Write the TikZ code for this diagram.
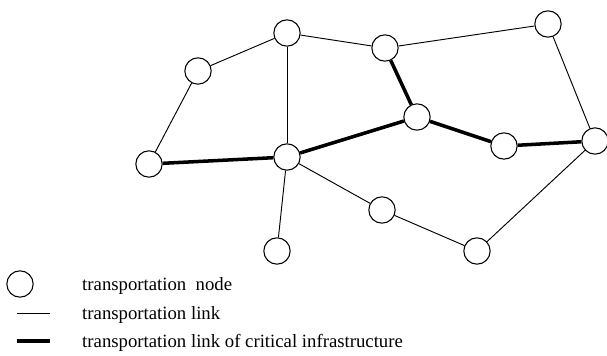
\documentclass[tikz,border=0pt]{standalone}
\usepackage{fontspec}
\setmainfont{Liberation Serif}
\tikzset{
  tnode/.style={minimum size=22.5pt,inner sep=0pt,draw,circle,fill=white,line width=0.9pt},
  tlink/.style={line width=0.8pt},
  critlink/.style={line width=3pt},
  legtext/.style={anchor=west,inner sep=0pt,font=\fontsize{16}{18}\selectfont}
}
\begin{document}
\begin{tikzpicture}[x=0.03cm,y=-0.03cm]
\useasboundingbox (0,0) rectangle (607,355);
\draw (198,71) node[tnode](a) {};
\draw (287,33) node[tnode](b) {};
\draw (385,48) node[tnode](c) {};
\draw (548,24) node[tnode](d) {};
\draw (149,164) node[tnode](e) {};
\draw (287,157) node[tnode](f) {};
\draw (417,117) node[tnode](g) {};
\draw (504,146) node[tnode](h) {};
\draw (595,141) node[tnode](i) {};
\draw (382,210) node[tnode](j) {};
\draw (277,251) node[tnode](k) {};
\draw (477,251) node[tnode](l) {};
\draw[tlink] (e) -- (a);
\draw[tlink] (a) -- (b);
\draw[tlink] (b) -- (c);
\draw[tlink] (c) -- (d);
\draw[tlink] (b) -- (f);
\draw[tlink] (d) -- (i);
\draw[tlink] (f) -- (j);
\draw[tlink] (j) -- (l);
\draw[tlink] (l) -- (i);
\draw[tlink] (f) -- (k);
\draw[critlink] (e) -- (f);
\draw[critlink] (f) -- (g);
\draw[critlink] (c) -- (g);
\draw[critlink] (g) -- (h);
\draw[critlink] (h) -- (i);
% legend
\draw (20,284) node[tnode](legnode) {};
\coordinate (thinl) at (17,313);
\coordinate (thinr) at (50,313);
\coordinate (thickl) at (17,341);
\coordinate (thickr) at (50,341);
\draw[tlink] (thinl) -- (thinr);
\draw[critlink] (thickl) -- (thickr);
\node[legtext] (legnodetext) at (82,286) {transportation\ \ node};
\node[legtext] (legthintext) at (82,315) {transportation link};
\node[legtext] (legthicktext) at (82,343) {transportation link of critical infrastructure};
\end{tikzpicture}
\end{document}
